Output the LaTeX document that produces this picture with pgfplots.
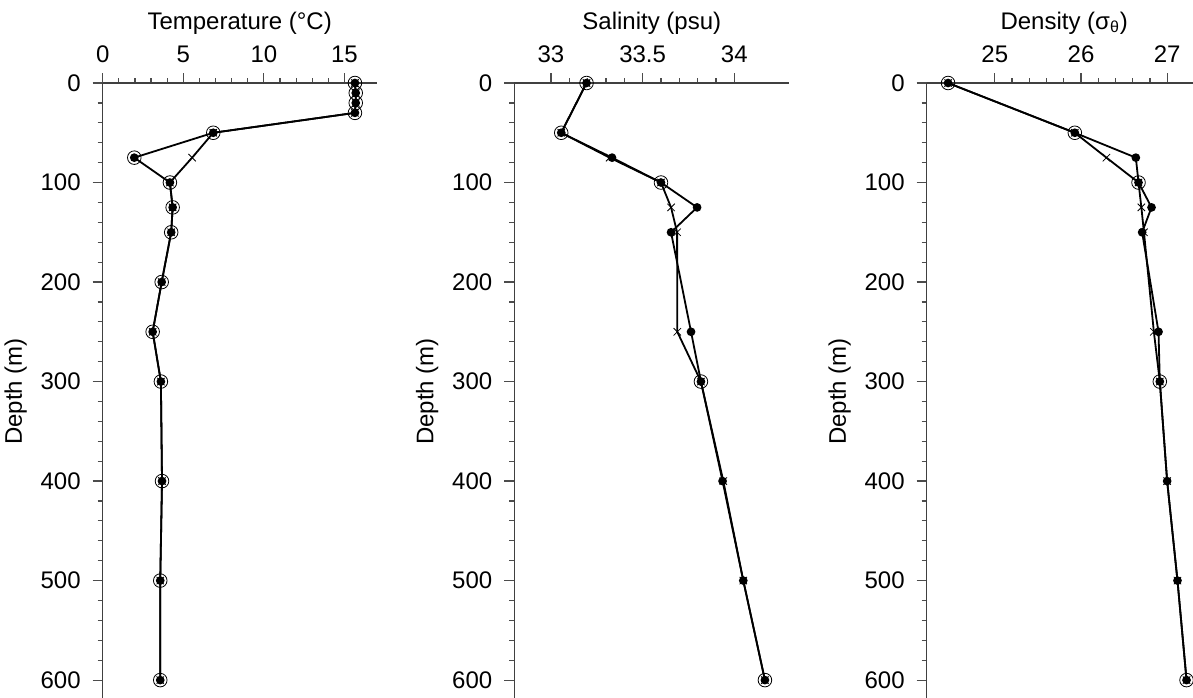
\documentclass[border=0pt]{standalone}
\usepackage{fontspec}
\setmainfont{Liberation Sans}
\usepackage{pgfplots}
\pgfplotsset{compat=1.18}

% one pixel of the reference = 0.5pt
\pgfplotsset{
  profile/.style={
    scale only axis,
    anchor=north west,
    height=308.5pt,
    y dir=reverse,
    ymin=0, ymax=620,
    ytick={0,100,...,600},
    minor y tick num=4,
    minor x tick num=4,
    axis x line=top,
    axis y line=left,
    axis line style={-, line width=0.7pt, black!75},
    tick align=outside,
    major tick length=5pt,
    minor tick length=2.5pt,
    every tick/.style={line width=0.6pt, black!70},
    tick label style={font=\fontsize{12}{14}\selectfont},
    every x tick label/.append style={yshift=1.5pt},
    every y tick label/.append style={xshift=-2.5pt},
    label style={font=\fontsize{12}{14}\selectfont},
    every axis x label/.append style={yshift=-1pt},
    /pgf/number format/assume math mode=true,
    ylabel={Depth (m)},
    clip=false,
  },
  dotline/.style={black, line width=0.9pt, mark=*, mark size=1.7pt},
  xline/.style={black, line width=0.9pt, mark=x, mark size=2.6pt, mark options={line width=0.4pt}},
  circ/.style={black, only marks, mark=o, mark size=3.4pt, mark options={line width=0.4pt}},
}

\begin{document}
\begin{tikzpicture}
\path[use as bounding box] (0,0) rectangle (596.5pt,-348.5pt);

% Temperature
\begin{axis}[profile, at={(51.35pt,-41.5pt)}, width=137pt,
  xmin=0, xmax=17, xtick={0,5,10,15},
  xlabel={Temperature (°C)}]
\addplot[xline] coordinates {(15.65,0) (15.7,10) (15.7,20) (15.65,30) (6.86,50) (5.55,75) (4.17,100) (4.34,125) (4.25,150) (3.66,200) (3.1,250) (3.61,300) (3.68,400) (3.57,500) (3.57,600)};
\addplot[dotline] coordinates {(15.65,0) (15.7,10) (15.7,20) (15.65,30) (6.86,50) (1.96,75) (4.17,100) (4.34,125) (4.25,150) (3.66,200) (3.1,250) (3.61,300) (3.68,400) (3.57,500) (3.57,600)};
\addplot[circ] coordinates {(15.65,0) (15.7,10) (15.7,20) (15.65,30) (6.86,50) (1.96,75) (4.17,100) (4.34,125) (4.25,150) (3.66,200) (3.1,250) (3.61,300) (3.68,400) (3.57,500) (3.57,600)};
\end{axis}

% Salinity
\begin{axis}[profile, at={(257.15pt,-41.5pt)}, width=137.5pt,
  xmin=32.8, xmax=34.3, xtick={33,33.5,34}, xticklabels={33,33.5,34},
  xlabel={Salinity (psu)}]
\addplot[xline] coordinates {(33.194,0) (33.056,50) (33.32,75) (33.6,100) (33.655,125) (33.688,150) (33.689,250) (33.818,300) (33.94,400) (34.049,500) (34.167,600)};
\addplot[dotline] coordinates {(33.194,0) (33.056,50) (33.333,75) (33.6,100) (33.797,125) (33.655,150) (33.764,250) (33.818,300) (33.936,400) (34.049,500) (34.167,600)};
\addplot[circ] coordinates {(33.194,0) (33.056,50) (33.6,100) (33.818,300) (34.167,600)};
\end{axis}

% Density
\begin{axis}[profile, at={(463.35pt,-41.5pt)}, width=137.5pt,
  xmin=24.21, xmax=27.4, xtick={25,26,27},
  xlabel={Density (σ\textsubscript{θ})}]
\addplot[xline] coordinates {(24.458,0) (25.928,50) (26.295,75) (26.667,100) (26.70,125) (26.73,150) (26.845,250) (26.914,300) (26.999,400) (27.119,500) (27.224,600)};
\addplot[dotline] coordinates {(24.458,0) (25.928,50) (26.636,75) (26.667,100) (26.818,125) (26.709,150) (26.899,250) (26.914,300) (26.999,400) (27.119,500) (27.224,600)};
\addplot[circ] coordinates {(24.458,0) (25.928,50) (26.667,100) (26.914,300) (27.224,600)};
\end{axis}
\end{tikzpicture}
\end{document}
